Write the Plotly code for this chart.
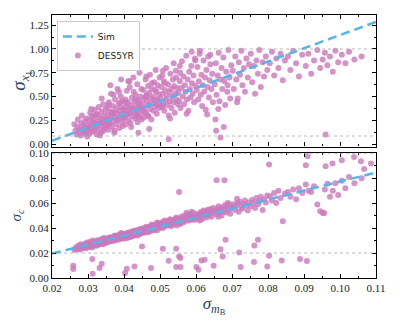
import plotly.graph_objects as go
from plotly.subplots import make_subplots

# sigma_mB shared by both panels, sigma_x1 (top) and sigma_c (bottom)
sigma_mb = [
    0.0262, 0.0265, 0.0268, 0.0270, 0.0272, 0.0275, 0.0277, 0.0279, 0.0281, 0.0283,
    0.0285, 0.0287, 0.0289, 0.0291, 0.0293, 0.0294, 0.0296, 0.0297, 0.0298, 0.0299,
    0.0301, 0.0303, 0.0304, 0.0306, 0.0307, 0.0309, 0.0310, 0.0312, 0.0313, 0.0315,
    0.0316, 0.0318, 0.0319, 0.0321, 0.0322, 0.0324, 0.0325, 0.0327, 0.0328, 0.0330,
    0.0331, 0.0333, 0.0334, 0.0336, 0.0337, 0.0339, 0.0340, 0.0342, 0.0343, 0.0345,
    0.0346, 0.0347, 0.0348, 0.0349, 0.0333, 0.0318, 0.0309, 0.0338, 0.0344, 0.0326,
    0.0351, 0.0352, 0.0354, 0.0355, 0.0357, 0.0358, 0.0360, 0.0361, 0.0363, 0.0364,
    0.0366, 0.0367, 0.0369, 0.0370, 0.0372, 0.0373, 0.0375, 0.0376, 0.0378, 0.0379,
    0.0381, 0.0382, 0.0384, 0.0385, 0.0387, 0.0388, 0.0390, 0.0391, 0.0393, 0.0394,
    0.0395, 0.0396, 0.0397, 0.0398, 0.0399, 0.0362, 0.0374, 0.0386, 0.0357, 0.0392,
    0.0368, 0.0380, 0.0359, 0.0389, 0.0371,
    0.0401, 0.0402, 0.0404, 0.0405, 0.0407, 0.0408, 0.0410, 0.0411, 0.0413, 0.0414,
    0.0416, 0.0417, 0.0419, 0.0420, 0.0422, 0.0423, 0.0425, 0.0426, 0.0428, 0.0429,
    0.0431, 0.0432, 0.0434, 0.0435, 0.0437, 0.0438, 0.0440, 0.0441, 0.0443, 0.0444,
    0.0445, 0.0446, 0.0447, 0.0448, 0.0449, 0.0406, 0.0418, 0.0427, 0.0436, 0.0412,
    0.0421, 0.0433, 0.0442, 0.0409, 0.0439,
    0.0451, 0.0452, 0.0454, 0.0455, 0.0457, 0.0458, 0.0460, 0.0461, 0.0463, 0.0464,
    0.0466, 0.0467, 0.0469, 0.0470, 0.0472, 0.0473, 0.0475, 0.0476, 0.0478, 0.0479,
    0.0481, 0.0482, 0.0484, 0.0485, 0.0487, 0.0488, 0.0490, 0.0491, 0.0493, 0.0494,
    0.0496, 0.0497, 0.0498, 0.0499, 0.0456, 0.0468, 0.0477, 0.0486, 0.0492, 0.0462,
    0.0501, 0.0503, 0.0504, 0.0506, 0.0507, 0.0509, 0.0511, 0.0512, 0.0514, 0.0516,
    0.0517, 0.0519, 0.0521, 0.0522, 0.0524, 0.0526, 0.0527, 0.0529, 0.0531, 0.0532,
    0.0534, 0.0536, 0.0537, 0.0539, 0.0541, 0.0542, 0.0544, 0.0546, 0.0547, 0.0549,
    0.0513, 0.0528, 0.0538, 0.0508, 0.0545,
    0.0551, 0.0553, 0.0555, 0.0557, 0.0559, 0.0561, 0.0563, 0.0565, 0.0567, 0.0569,
    0.0571, 0.0573, 0.0575, 0.0577, 0.0579, 0.0581, 0.0583, 0.0585, 0.0587, 0.0589,
    0.0591, 0.0593, 0.0595, 0.0597, 0.0599, 0.0556, 0.0574, 0.0588,
    0.0602, 0.0604, 0.0606, 0.0608, 0.0611, 0.0613, 0.0615, 0.0617, 0.0619, 0.0621,
    0.0623, 0.0625, 0.0627, 0.0629, 0.0632, 0.0634, 0.0636, 0.0638, 0.0640, 0.0643,
    0.0645, 0.0647, 0.0610, 0.0631,
    0.0652, 0.0655, 0.0657, 0.0660, 0.0663, 0.0665, 0.0668, 0.0671, 0.0673, 0.0676,
    0.0679, 0.0681, 0.0684, 0.0687, 0.0690, 0.0693, 0.0695, 0.0698, 0.0662, 0.0688,
    0.0702, 0.0705, 0.0709, 0.0712, 0.0716, 0.0719, 0.0722, 0.0726, 0.0729, 0.0733,
    0.0736, 0.0740, 0.0744, 0.0747, 0.0714,
    0.0752, 0.0756, 0.0760, 0.0764, 0.0768, 0.0772, 0.0776, 0.0780, 0.0785, 0.0789,
    0.0794, 0.0798,
    0.0805, 0.0811, 0.0817, 0.0823, 0.0829, 0.0835, 0.0841, 0.0847,
    0.0855, 0.0862, 0.0870, 0.0878, 0.0886, 0.0895,
    0.0905, 0.0912, 0.0920, 0.0928, 0.0937, 0.0945,
    0.0952, 0.0958, 0.0965, 0.0972, 0.0980, 0.0987, 0.0995,
    0.1005, 0.1015, 0.1025, 0.1040, 0.1060,
]
sigma_x1 = [
    0.21, 0.14, 0.10, 0.18, 0.26, 0.12, 0.16, 0.09, 0.22, 0.30,
    0.15, 0.19, 0.11, 0.24, 0.13, 0.17, 0.27, 0.20, 0.08, 0.14,
    0.18, 0.25, 0.11, 0.33, 0.16, 0.21, 0.29, 0.13, 0.23, 0.19,
    0.27, 0.14, 0.36, 0.22, 0.17, 0.31, 0.10, 0.24, 0.20, 0.39,
    0.15, 0.28, 0.22, 0.12, 0.34, 0.26, 0.19, 0.42, 0.23, 0.30,
    0.17, 0.25, 0.36, 0.21, 0.09, 0.30, 0.37, 0.48, 0.14, 0.31,
    0.26, 0.19, 0.38, 0.31, 0.15, 0.44, 0.27, 0.22, 0.34, 0.53,
    0.29, 0.18, 0.40, 0.24, 0.33, 0.12, 0.47, 0.28, 0.37, 0.21,
    0.32, 0.58, 0.26, 0.42, 0.17, 0.35, 0.29, 0.50, 0.39, 0.23,
    0.31, 0.45, 0.19, 0.36, 0.27, 0.62, 0.14, 0.55, 0.41, 0.68,
    0.33, 0.25, 0.21, 0.44, 0.52,
    0.35, 0.28, 0.47, 0.21, 0.39, 0.56, 0.31, 0.44, 0.25, 0.37,
    0.60, 0.33, 0.41, 0.18, 0.49, 0.29, 0.38, 0.70, 0.34, 0.45,
    0.27, 0.52, 0.40, 0.33, 0.63, 0.23, 0.46, 0.36, 0.75, 0.42,
    0.31, 0.50, 0.38, 0.58, 0.26, 0.43, 0.22, 0.55, 0.30, 0.66,
    0.36, 0.47, 0.40, 0.32, 0.28,
    0.44, 0.36, 0.57, 0.28, 0.49, 0.39, 0.68, 0.33, 0.52, 0.45,
    0.30, 0.61, 0.41, 0.54, 0.73, 0.37, 0.48, 0.26, 0.58, 0.43,
    0.50, 0.35, 0.65, 0.46, 0.40, 0.78, 0.55, 0.32, 0.47, 0.62,
    0.38, 0.52, 0.44, 0.70, 0.34, 0.29, 0.64, 0.57, 0.41, 0.50,
    0.48, 0.60, 0.39, 0.72, 0.53, 0.43, 0.66, 0.35, 0.57, 0.47,
    0.80, 0.51, 0.41, 0.63, 0.30, 0.55, 0.45, 0.74, 0.58, 0.38,
    0.50, 0.68, 0.44, 0.61, 0.33, 0.53, 0.77, 0.47, 0.59, 0.42,
    0.64, 0.27, 0.85, 0.40, 0.70,
    0.54, 0.45, 0.66, 0.38, 0.59, 0.87, 0.50, 0.71, 0.42, 0.62,
    0.55, 0.93, 0.47, 0.68, 0.35, 0.76, 0.58, 0.49, 0.82, 0.64,
    0.53, 0.72, 0.44, 0.90, 0.61, 0.75, 0.32, 0.97,
    0.57, 0.81, 0.47, 0.66, 0.98, 0.52, 0.73, 0.40, 0.62, 0.88,
    0.55, 0.70, 0.36, 0.78, 0.60, 0.92, 0.49, 0.67, 0.84, 0.58,
    0.74, 0.44, 0.95, 0.31,
    0.63, 0.85, 0.52, 0.72, 0.96, 0.45, 0.68, 0.80, 0.58, 0.91,
    0.66, 0.41, 0.76, 0.55, 0.99, 0.70, 0.48, 0.83, 0.37, 0.62,
    0.77, 0.58, 0.92, 0.68, 0.48, 0.86, 0.73, 0.98, 0.62, 0.80,
    0.55, 0.90, 0.70, 0.84, 0.44,
    0.95, 0.65, 0.82, 0.53, 0.88, 0.74, 0.99, 0.60, 0.86, 0.71,
    0.92, 0.78,
    0.85, 0.97, 0.72, 0.90, 0.80, 0.95, 0.67, 0.88,
    0.92, 0.78, 0.98, 0.85, 0.71, 0.94,
    0.82, 0.95, 0.74, 0.88, 0.99, 0.80,
    0.89, 0.96, 0.83, 0.92, 0.76, 0.98, 0.86,
    0.94, 0.85, 0.97, 0.89, 0.92,
]
sigma_c = [
    0.0225, 0.0240, 0.0230, 0.0250, 0.0235, 0.0262, 0.0245, 0.0228, 0.0270, 0.0252,
    0.0240, 0.0258, 0.0265, 0.0248, 0.0275, 0.0238, 0.0260, 0.0285, 0.0252, 0.0268,
    0.0255, 0.0272, 0.0248, 0.0290, 0.0262, 0.0280, 0.0258, 0.0245, 0.0300, 0.0268,
    0.0278, 0.0262, 0.0285, 0.0270, 0.0295, 0.0258, 0.0282, 0.0275, 0.0305, 0.0268,
    0.0290, 0.0272, 0.0284, 0.0300, 0.0278, 0.0312, 0.0288, 0.0270, 0.0296, 0.0282,
    0.0305, 0.0292, 0.0280, 0.0315, 0.0295, 0.0288, 0.0276, 0.0302, 0.0320, 0.0265,
    0.0300, 0.0285, 0.0318, 0.0295, 0.0308, 0.0290, 0.0325, 0.0302, 0.0312, 0.0296,
    0.0318, 0.0305, 0.0330, 0.0298, 0.0322, 0.0310, 0.0340, 0.0315, 0.0302, 0.0328,
    0.0335, 0.0318, 0.0325, 0.0345, 0.0312, 0.0330, 0.0350, 0.0322, 0.0338, 0.0328,
    0.0342, 0.0320, 0.0355, 0.0332, 0.0315, 0.0322, 0.0335, 0.0308, 0.0290, 0.0360,
    0.0312, 0.0326, 0.0305, 0.0340, 0.0300,
    0.0340, 0.0325, 0.0355, 0.0332, 0.0348, 0.0318, 0.0360, 0.0338, 0.0345, 0.0328,
    0.0352, 0.0365, 0.0340, 0.0358, 0.0372, 0.0346, 0.0335, 0.0362, 0.0378, 0.0350,
    0.0358, 0.0345, 0.0368, 0.0382, 0.0355, 0.0340, 0.0375, 0.0362, 0.0390, 0.0352,
    0.0368, 0.0385, 0.0358, 0.0372, 0.0395, 0.0345, 0.0328, 0.0370, 0.0348, 0.0365,
    0.0342, 0.0360, 0.0380, 0.0335, 0.0370,
    0.0370, 0.0385, 0.0362, 0.0398, 0.0378, 0.0390, 0.0365, 0.0405, 0.0382, 0.0372,
    0.0395, 0.0380, 0.0410, 0.0388, 0.0402, 0.0375, 0.0415, 0.0392, 0.0385, 0.0420,
    0.0398, 0.0412, 0.0390, 0.0425, 0.0405, 0.0395, 0.0418, 0.0430, 0.0402, 0.0385,
    0.0422, 0.0408, 0.0438, 0.0415, 0.0395, 0.0368, 0.0428, 0.0380, 0.0445, 0.0410,
    0.0420, 0.0405, 0.0435, 0.0415, 0.0448, 0.0428, 0.0410, 0.0440, 0.0425, 0.0455,
    0.0432, 0.0418, 0.0450, 0.0438, 0.0425, 0.0460, 0.0442, 0.0430, 0.0415, 0.0452,
    0.0440, 0.0465, 0.0428, 0.0455, 0.0470, 0.0435, 0.0448, 0.0475, 0.0420, 0.0458,
    0.0460, 0.0470, 0.0445, 0.0400, 0.0485,
    0.0450, 0.0475, 0.0440, 0.0462, 0.0490, 0.0455, 0.0470, 0.0445, 0.0500, 0.0465,
    0.0480, 0.0458, 0.0505, 0.0472, 0.0490, 0.0460, 0.0512, 0.0485, 0.0470, 0.0495,
    0.0478, 0.0520, 0.0465, 0.0502, 0.0488, 0.0432, 0.0522, 0.0530,
    0.0495, 0.0475, 0.0515, 0.0500, 0.0488, 0.0528, 0.0505, 0.0470, 0.0520, 0.0540,
    0.0498, 0.0530, 0.0512, 0.0485, 0.0545, 0.0518, 0.0502, 0.0550, 0.0525, 0.0490,
    0.0535, 0.0560, 0.0460, 0.0508,
    0.0530, 0.0510, 0.0555, 0.0540, 0.0575, 0.0520, 0.0548, 0.0500, 0.0565, 0.0535,
    0.0555, 0.0585, 0.0525, 0.0570, 0.0545, 0.0590, 0.0515, 0.0560, 0.0490, 0.0600,
    0.0565, 0.0590, 0.0545, 0.0578, 0.0600, 0.0530, 0.0610, 0.0570, 0.0555, 0.0595,
    0.0620, 0.0580, 0.0540, 0.0605, 0.0635,
    0.0575, 0.0625, 0.0600, 0.0560, 0.0640, 0.0590, 0.0615, 0.0650, 0.0545, 0.0630,
    0.0605, 0.0660,
    0.0655, 0.0620, 0.0680, 0.0600, 0.0700, 0.0640, 0.0455, 0.0675,
    0.0690, 0.0650, 0.0710, 0.0630, 0.0720, 0.0680,
    0.0750, 0.0700, 0.0690, 0.0735, 0.0588, 0.0534,
    0.0521, 0.0710, 0.0755, 0.0650, 0.0700, 0.0760, 0.0665,
    0.0780, 0.0720, 0.0810, 0.0760, 0.0800,
]

# extra points that sit away from the main trend in each panel
x1_extra_mb = [0.0524, 0.0654, 0.0656, 0.0677, 0.0668, 0.0960, 0.0440, 0.0470,
               0.0415, 0.0462, 0.0508, 0.0555, 0.0598, 0.0640]
x1_extra = [0.05, 0.26, 0.14, 0.18, 0.07, 0.10, 0.12, 0.16,
            0.66, 0.71, 0.77, 0.82, 0.88, 0.94]
c_extra_mb = [
    0.0259, 0.0259, 0.0312, 0.0313, 0.0332, 0.0338, 0.0408, 0.0429, 0.0403, 0.0475,
    0.0508, 0.0524, 0.0545, 0.0553, 0.0557, 0.0545, 0.0557, 0.0553, 0.0601, 0.0607,
    0.0615, 0.0624, 0.0649, 0.0668, 0.0674, 0.0682, 0.0720, 0.0724, 0.0761, 0.0762,
    0.0772, 0.0798, 0.0803, 0.0838, 0.0889, 0.0908, 0.0657, 0.0679, 0.0803, 0.0910,
    0.0905, 0.1039, 0.1005, 0.0960, 0.0979, 0.1058, 0.1086, 0.1067, 0.0956, 0.0450,
]
c_extra = [
    0.0099, 0.0072, 0.0152, 0.0034, 0.0080, 0.0115, 0.0075, 0.0093, 0.0040, 0.0080,
    0.0235, 0.0139, 0.0235, 0.0173, 0.0160, 0.0088, 0.0088, 0.0690, 0.0088, 0.0067,
    0.0141, 0.0147, 0.0099, 0.0230, 0.0173, 0.0306, 0.0205, 0.0088, 0.0128, 0.0260,
    0.0307, 0.0093, 0.0179, 0.0141, 0.0152, 0.0136, 0.0783, 0.0783, 0.0909, 0.0975,
    0.0903, 0.0970, 0.0943, 0.0895, 0.0917, 0.0935, 0.0917, 0.0874, 0.0521, 0.0253,
]

# Sim relation
sim_mb = [0.02, 0.11]
sim_x1 = [0.035, 1.285]
sim_c = [0.0195, 0.0845]

pink = '#CC78BC'
blue = '#56B4E9'
serif = 'Liberation Serif'

fig = make_subplots(rows=2, cols=1, shared_xaxes=True)

fig.add_trace(go.Scatter(x=sigma_mb + x1_extra_mb, y=sigma_x1 + x1_extra, mode='markers',
                         name='DES5YR', legendrank=2,
                         marker=dict(color=pink, size=6, opacity=0.8)),
              row=1, col=1)
fig.add_trace(go.Scatter(x=sim_mb, y=sim_x1, mode='lines', name='Sim', legendrank=1,
                         line=dict(color=blue, width=2.5, dash='9px,5px')), row=1, col=1)
fig.add_trace(go.Scatter(x=sigma_mb + c_extra_mb, y=sigma_c + c_extra, mode='markers',
                         showlegend=False, marker=dict(color=pink, size=6, opacity=0.8)),
              row=2, col=1)
fig.add_trace(go.Scatter(x=sim_mb, y=sim_c, mode='lines', showlegend=False,
                         line=dict(color=blue, width=2.5, dash='9px,5px')), row=2, col=1)

for xr, yr, yv in [('x', 'y', 1.0), ('x', 'y', 0.085), ('x2', 'y2', 0.02), ('x2', 'y2', 0.1)]:
    fig.add_shape(type='line', xref=xr, yref=yr,
                  x0=0.02, x1=0.11, y0=yv, y1=yv, layer='above',
                  line=dict(color='#aaaaaa', width=0.8, dash='dot'))

ax = dict(showline=True, linecolor='black', linewidth=1.2, mirror='allticks',
          ticks='inside', ticklen=4, tickcolor='black', showgrid=False, zeroline=False,
          automargin=False,
          tickfont=dict(family=serif, size=11, color='#222'),
          minor=dict(ticks='inside', ticklen=2, tickcolor='black'))

fig.update_xaxes(**ax, range=[0.02, 0.11], dtick=0.01, tickformat='.2f')
fig.update_xaxes(minor_dtick=0.005)
fig.update_xaxes(showticklabels=False, row=1, col=1)
fig.update_xaxes(row=2, col=1, title=dict(text='<i>σ<sub>m</sub></i><sub><sub>B</sub></sub>',
                 font=dict(family=serif, size=17), standoff=2))

fig.update_yaxes(**ax)
fig.update_yaxes(row=1, col=1, range=[-0.025, 1.357], dtick=0.25, tickformat='.2f',
                 minor_dtick=0.125, domain=[0.5, 1],
                 title=dict(text='<i>σ</i><sub><i>x</i>₁</sub>', font=dict(family=serif, size=19),
                            standoff=4))
fig.update_yaxes(row=2, col=1, range=[0, 0.1003], dtick=0.02, tickformat='.2f',
                 minor_dtick=0.01, domain=[0, 0.476],
                 title=dict(text='<i>σ</i><sub><i>c</i></sub>', font=dict(family=serif, size=15),
                            standoff=4))

# the page body keeps an 8px margin, so the figure is sized to fit inside the window
fig.update_layout(
    width=391, height=316,
    margin=dict(l=44, r=23, t=7, b=46),
    plot_bgcolor='white', paper_bgcolor='white',
    legend=dict(x=0.015, y=0.977, xanchor='left', yanchor='top',
                bgcolor='rgba(255,255,255,0.85)', bordercolor='#cccccc', borderwidth=1,
                font=dict(family='DejaVu Sans', size=9, color='#222'),
                itemwidth=30, tracegroupgap=0),
)

fig.write_html("out.html")
